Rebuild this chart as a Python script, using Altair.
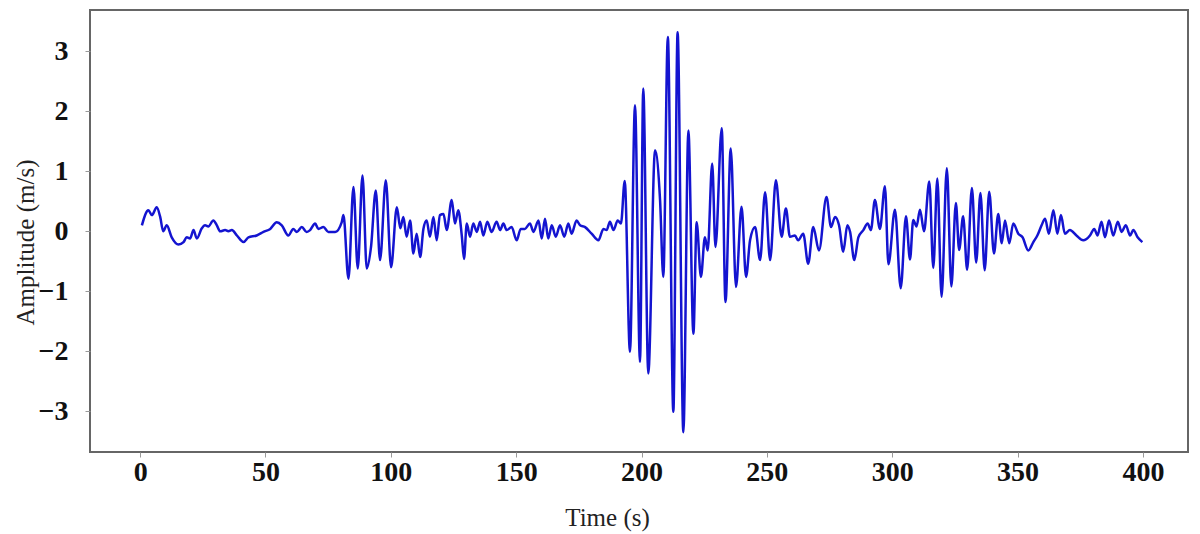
import altair as alt
import pandas as pd

# Time (s) and amplitude (m/s) (turning points)
time_s = [
    0.7, 3.3, 4.7, 6.6, 8.0, 9.2, 10.6, 12.6, 15.3, 17.3, 18.6, 19.9, 21.3, 22.6, 24.6, 25.9, 27.2,
    29.2, 30.6, 31.9, 33.9, 35.2, 36.6, 38.6, 41.2, 43.2, 46.5, 49.2,
    51.9, 54.5, 56.5, 59.1, 61.1, 62.5, 64.5, 66.4, 67.8, 69.8, 71.1, 73.1, 75.1, 77.8, 80.4, 81.1,
    83.1, 85.1, 86.8, 88.7, 90.4, 92.1, 94.0, 95.7, 98.0, 100.1, 102.4, 103.8,
    105.0, 106.3, 107.7, 109.0, 110.3, 111.7, 113.0, 114.3, 115.6, 117.0, 118.3, 119.6, 121.0, 122.3,
    124.3, 125.6, 126.9, 128.3, 129.2, 130.3, 131.6, 132.9, 134.3, 135.6, 136.9, 138.5, 140.2, 142.2,
    143.6, 144.9, 146.2, 148.2, 150.2, 151.8, 153.5, 155.5, 156.9,
    158.9, 160.2, 161.5, 162.8, 164.2, 165.8, 167.5, 169.2, 170.8, 172.1, 174.1, 175.5, 177.5, 180.1,
    182.8, 184.8, 186.1, 187.4, 188.8, 190.5, 191.8, 193.3,
    195.4, 197.4, 199.4, 200.7, 202.7, 205.4, 207.4, 208.7, 210.5, 212.7, 214.4, 216.7, 218.7, 220.7,
    222.0, 223.7, 225.3, 226.4, 228.2, 229.5, 232.0, 233.5,
    235.6, 237.7, 239.9, 241.7, 243.3, 245.3, 247.3, 249.3, 251.3, 253.6, 255.9, 257.6, 259.2, 261.2,
    262.5, 264.5, 266.5, 268.5,
    270.8, 273.8, 275.6, 277.2, 278.8, 280.5, 282.1, 283.2, 284.9, 286.5, 288.5, 290.2, 291.5, 293.1,
    295.1, 297.1, 298.5, 301.1, 303.4, 305.5, 307.1, 308.4, 309.7, 311.1, 312.7, 314.8, 316.4, 318.0,
    319.7, 321.8, 323.6, 325.4, 326.7, 328.3, 329.9, 331.8, 333.5, 335.2, 336.9, 338.7, 340.6, 342.3,
    343.7, 345.0, 346.7, 348.3, 350.3, 352.0, 354.3, 356.3, 357.9, 359.6, 361.0, 362.5, 364.3, 365.9,
    367.3, 368.9, 370.9, 373.5, 376.2, 378.9, 380.6, 381.9, 383.5, 384.9, 386.5, 388.2, 390.0, 391.5,
    393.2, 394.9, 396.2, 397.9, 399.8,
]
amplitude = [
    0.10, 0.35, 0.27, 0.40, 0.24, 0.00, 0.10, -0.10, -0.22, -0.18, -0.10, -0.12, 0.02, -0.12, 0.05, 0.10, 0.08,
    0.18, 0.10, 0.00, 0.02, 0.00, 0.02, -0.07, -0.18, -0.10, -0.07, -0.01,
    0.04, 0.15, 0.10, -0.07, 0.04, -0.01, 0.07, -0.01, 0.02, 0.13, 0.04, 0.07, -0.01, -0.01, 0.15, 0.27,
    -0.79, 0.74, -0.62, 0.93, -0.62, -0.26, 0.68, -0.48, 0.85, -0.60, 0.40, 0.05,
    0.24, -0.09, 0.18, -0.37, -0.04, -0.43, 0.04, 0.18, -0.09, 0.24, -0.15, 0.27, 0.29, 0.02,
    0.52, 0.13, 0.35, -0.07, -0.46, 0.13, -0.09, 0.13, -0.01, 0.16, -0.07, 0.16, -0.01, 0.16,
    0.02, 0.13, 0.02, 0.07, -0.15, 0.04, 0.04, 0.13, -0.01,
    0.18, -0.12, 0.21, -0.12, 0.10, -0.09, 0.10, -0.09, 0.13, -0.04, 0.18, 0.10, 0.07, -0.04,
    -0.15, 0.04, 0.02, 0.16, 0.02, 0.18, 0.13, 0.84,
    -2.01, 2.10, -2.18, 2.38, -2.37, 1.35, 0.52, -0.76, 3.24, -3.01, 3.32, -3.35, 1.68, -1.71,
    0.15, -0.76, -0.10, -0.32, 1.13, -0.26, 1.72, -1.18,
    1.38, -0.93, 0.41, -0.76, -0.15, 0.07, -0.48, 0.65, -0.48, 0.85, -0.09, 0.38, -0.09, -0.07,
    -0.15, -0.04, -0.54, 0.07,
    -0.32, 0.57, 0.07, 0.24, 0.10, -0.34, 0.10, -0.01, -0.48, -0.10, 0.02, 0.13, 0.02, 0.52,
    0.04, 0.75, -0.55, 0.36, -0.95, 0.25, -0.47, 0.19, 0.08, 0.36, 0.00, 0.83, -0.61, 0.88,
    -1.09, 1.05, -0.92, 0.47, -0.31, 0.25, -0.64, 0.72, -0.52, 0.64, -0.65, 0.66, -0.37, 0.29,
    -0.20, 0.18, -0.20, 0.13, -0.04, -0.10, -0.32, -0.18, -0.07, 0.10, 0.21, -0.04, 0.35, -0.04,
    0.27, -0.04, 0.02, -0.07, -0.15, -0.07, 0.04, -0.07, 0.16, -0.10, 0.18, -0.07, 0.16, -0.01,
    0.10, -0.07, 0.02, -0.10, -0.18,
]
x_ticks = [0, 50, 100, 150, 200, 250, 300, 350, 400]
y_ticks = [-3, -2, -1, 0, 1, 2, 3]

df = pd.DataFrame({"t": time_s, "a": amplitude})

serif = "Liberation Serif"

chart = (
    alt.Chart(df, background="white")
    .mark_line(color="#1414d0", strokeWidth=2.5, interpolate="monotone")
    .encode(
        x=alt.X(
            "t:Q",
            scale=alt.Scale(domain=[-20, 418], nice=False, zero=False),
            axis=alt.Axis(
                title="Time (s)",
                values=x_ticks,
                format="d",
                grid=False,
                domain=False,
                tickSize=5,
                tickColor="#999999",
                labelPadding=1,
                labelFont=serif,
                labelFontWeight="bold",
                labelFontSize=28,
                labelColor="#111111",
                titleFont=serif,
                titleFontWeight="normal",
                titleFontSize=25,
                titleColor="#222222",
                titleX=517,
                titleY=65,
                titleAlign="center",
                titleBaseline="middle",
            ),
        ),
        y=alt.Y(
            "a:Q",
            scale=alt.Scale(domain=[-3.68, 3.69], nice=False, zero=False),
            axis=alt.Axis(
                title="Amplitude (m/s)",
                values=y_ticks,
                format="d",
                grid=False,
                domain=False,
                tickSize=5,
                tickColor="#999999",
                labelPadding=17,
                labelFont=serif,
                labelFontWeight="bold",
                labelFontSize=28,
                labelColor="#111111",
                titleFont=serif,
                titleFontWeight="normal",
                titleFontSize=25,
                titleColor="#222222",
                titleAngle=-90,
                titleX=-65,
                titleY=232,
                titleAlign="center",
                titleBaseline="middle",
            ),
        ),
    )
    .properties(
        width=1098,
        height=442,
        autosize=alt.AutoSizeParams(type="none"),
        padding={"left": 82, "top": 2, "right": 4, "bottom": 82},
    )
    .configure_view(stroke="#666666", strokeWidth=2)
)

chart.save("out.html", embed_options={"renderer": "svg", "actions": False})
